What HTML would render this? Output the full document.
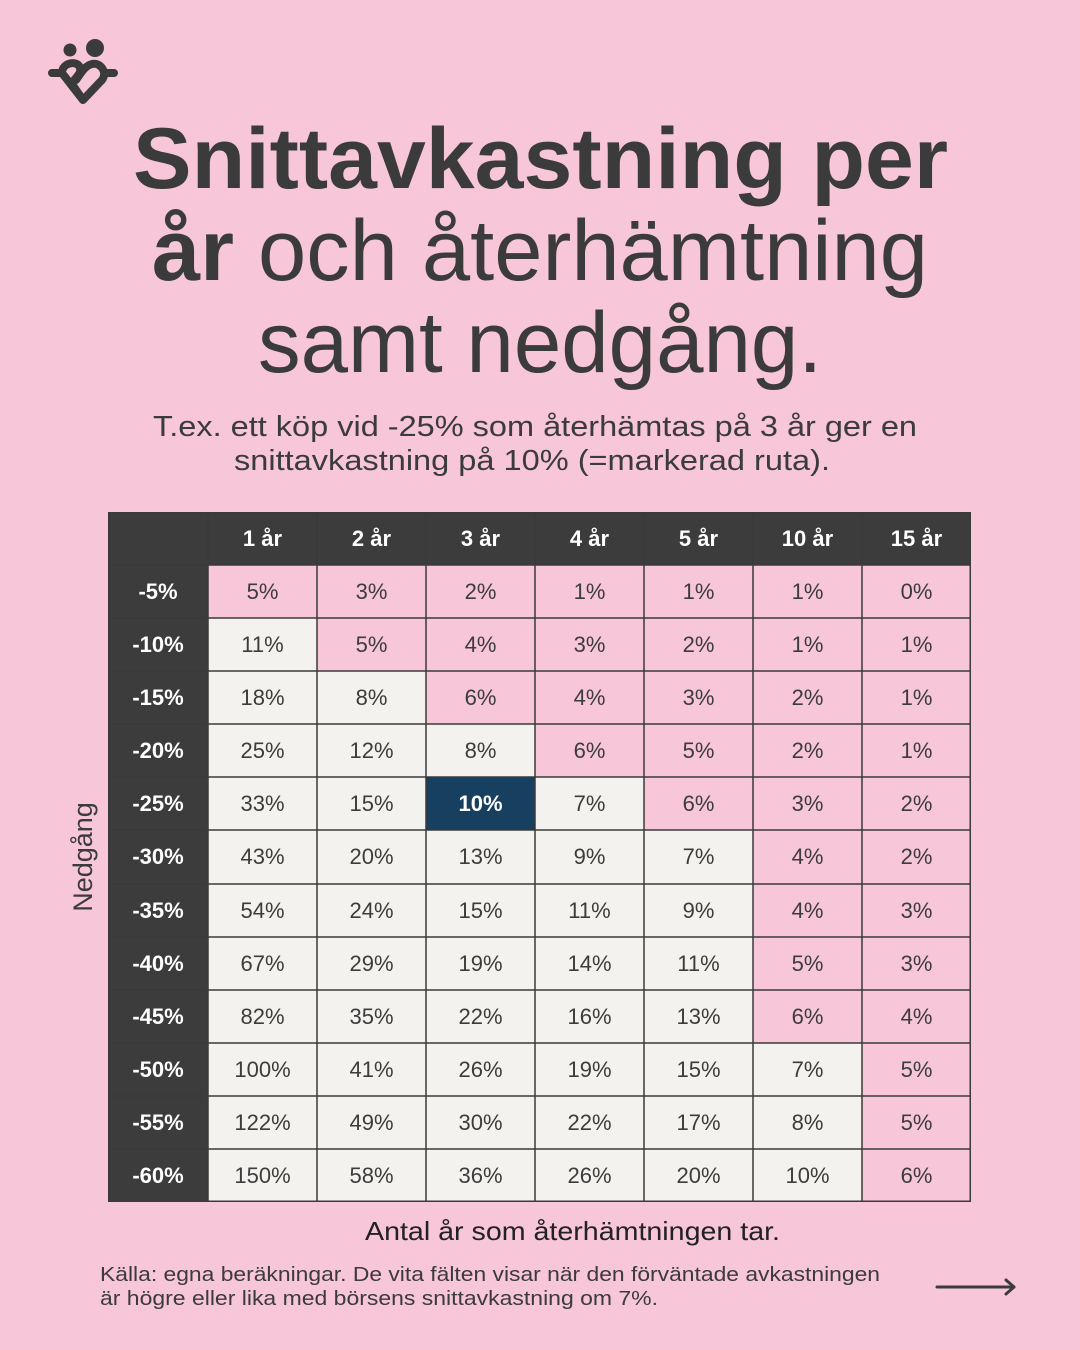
<!DOCTYPE html>
<html><head><meta charset="utf-8"><style>
html,body{margin:0;padding:0;background:#f7c6d8;}
svg{display:block}
</style></head><body>
<svg width="1080" height="1350" viewBox="0 0 1080 1350" xmlns="http://www.w3.org/2000/svg" font-family="Liberation Sans, sans-serif">
<rect width="1080" height="1350" fill="#f7c6d8"/>
<!-- logo -->
<g fill="#3b3b3b" stroke="#3b3b3b">
<circle cx="70" cy="50" r="6.5" stroke="none"/>
<circle cx="95" cy="48" r="9" stroke="none"/>
<path d="M52 73 H62 M104 73 H114 M62 73 C62 62 78 60 80 68 C82 74 74 78 72 84 L83 100 L102 80 C108 72 100 62 92 64 C84 66 80 75 76 80 M62 73 L83 100" fill="none" stroke-width="8" stroke-linecap="round" stroke-linejoin="round"/>
</g>
<!-- title -->
<g fill="#3b3b3b">
<text x="133" y="188" font-size="86" font-weight="bold" textLength="815" lengthAdjust="spacingAndGlyphs">Snittavkastning per</text>
<text x="152" y="280" font-size="86" textLength="776" lengthAdjust="spacingAndGlyphs"><tspan font-weight="bold">år</tspan> och återhämtning</text>
<text x="258" y="372" font-size="86" textLength="564" lengthAdjust="spacingAndGlyphs">samt nedgång.</text>
<text x="153" y="436" font-size="29" textLength="764" lengthAdjust="spacingAndGlyphs">T.ex. ett köp vid -25% som återhämtas på 3 år ger en</text>
<text x="234" y="470" font-size="29" textLength="596" lengthAdjust="spacingAndGlyphs">snittavkastning på 10% (=markerad ruta).</text>
</g>
<!-- table backgrounds -->
<rect x="108" y="512" width="863" height="53" fill="#3c3c3c"/>
<rect x="108" y="565" width="100" height="637" fill="#3c3c3c"/>
<rect x="208" y="565" width="763" height="637" fill="#f3f2ef"/>
<g fill="#f7c6d8">
<rect x="208" y="565" width="763" height="53"/>
<rect x="317" y="618" width="654" height="53"/>
<rect x="426" y="671" width="545" height="53"/>
<rect x="535" y="724" width="436" height="53"/>
<rect x="644" y="777" width="327" height="53"/>
<rect x="753" y="830" width="218" height="213"/>
<rect x="862" y="1043" width="109" height="159"/>
</g>
<rect x="426" y="777" width="109" height="53" fill="#173f5f"/>
<!-- grid -->
<g stroke="#3a3a3a" stroke-width="1.5">
<path d="M108 565H971M108 618H971M108 671H971M108 724H971M108 777H971M108 830H971M108 884H971M108 937H971M108 990H971M108 1043H971M108 1096H971M108 1149H971"/>
<path d="M208 512V1202M317 512V1202M426 512V1202M535 512V1202M644 512V1202M753 512V1202M862 512V1202"/>
<rect x="108.75" y="512.75" width="861.5" height="688.5" fill="none"/>
</g>
<!-- header -->
<g fill="#ffffff" font-size="22" font-weight="bold" text-anchor="middle">
<text x="262.5" y="546">1 år</text><text x="371.5" y="546">2 år</text><text x="480.5" y="546">3 år</text><text x="589.5" y="546">4 år</text><text x="698.5" y="546">5 år</text><text x="807.5" y="546">10 år</text><text x="916.5" y="546">15 år</text>
<text x="158" y="599">-5%</text><text x="158" y="652">-10%</text><text x="158" y="705">-15%</text><text x="158" y="758">-20%</text><text x="158" y="811">-25%</text><text x="158" y="864">-30%</text><text x="158" y="918">-35%</text><text x="158" y="971">-40%</text><text x="158" y="1024">-45%</text><text x="158" y="1077">-50%</text><text x="158" y="1130">-55%</text><text x="158" y="1183">-60%</text>
</g>
<g fill="#3c3c3c" font-size="22" text-anchor="middle">
<text y="599"><tspan x="262.5">5%</tspan><tspan x="371.5">3%</tspan><tspan x="480.5">2%</tspan><tspan x="589.5">1%</tspan><tspan x="698.5">1%</tspan><tspan x="807.5">1%</tspan><tspan x="916.5">0%</tspan></text>
<text y="652"><tspan x="262.5">11%</tspan><tspan x="371.5">5%</tspan><tspan x="480.5">4%</tspan><tspan x="589.5">3%</tspan><tspan x="698.5">2%</tspan><tspan x="807.5">1%</tspan><tspan x="916.5">1%</tspan></text>
<text y="705"><tspan x="262.5">18%</tspan><tspan x="371.5">8%</tspan><tspan x="480.5">6%</tspan><tspan x="589.5">4%</tspan><tspan x="698.5">3%</tspan><tspan x="807.5">2%</tspan><tspan x="916.5">1%</tspan></text>
<text y="758"><tspan x="262.5">25%</tspan><tspan x="371.5">12%</tspan><tspan x="480.5">8%</tspan><tspan x="589.5">6%</tspan><tspan x="698.5">5%</tspan><tspan x="807.5">2%</tspan><tspan x="916.5">1%</tspan></text>
<text y="811"><tspan x="262.5">33%</tspan><tspan x="371.5">15%</tspan><tspan x="589.5">7%</tspan><tspan x="698.5">6%</tspan><tspan x="807.5">3%</tspan><tspan x="916.5">2%</tspan></text>
<text y="864"><tspan x="262.5">43%</tspan><tspan x="371.5">20%</tspan><tspan x="480.5">13%</tspan><tspan x="589.5">9%</tspan><tspan x="698.5">7%</tspan><tspan x="807.5">4%</tspan><tspan x="916.5">2%</tspan></text>
<text y="918"><tspan x="262.5">54%</tspan><tspan x="371.5">24%</tspan><tspan x="480.5">15%</tspan><tspan x="589.5">11%</tspan><tspan x="698.5">9%</tspan><tspan x="807.5">4%</tspan><tspan x="916.5">3%</tspan></text>
<text y="971"><tspan x="262.5">67%</tspan><tspan x="371.5">29%</tspan><tspan x="480.5">19%</tspan><tspan x="589.5">14%</tspan><tspan x="698.5">11%</tspan><tspan x="807.5">5%</tspan><tspan x="916.5">3%</tspan></text>
<text y="1024"><tspan x="262.5">82%</tspan><tspan x="371.5">35%</tspan><tspan x="480.5">22%</tspan><tspan x="589.5">16%</tspan><tspan x="698.5">13%</tspan><tspan x="807.5">6%</tspan><tspan x="916.5">4%</tspan></text>
<text y="1077"><tspan x="262.5">100%</tspan><tspan x="371.5">41%</tspan><tspan x="480.5">26%</tspan><tspan x="589.5">19%</tspan><tspan x="698.5">15%</tspan><tspan x="807.5">7%</tspan><tspan x="916.5">5%</tspan></text>
<text y="1130"><tspan x="262.5">122%</tspan><tspan x="371.5">49%</tspan><tspan x="480.5">30%</tspan><tspan x="589.5">22%</tspan><tspan x="698.5">17%</tspan><tspan x="807.5">8%</tspan><tspan x="916.5">5%</tspan></text>
<text y="1183"><tspan x="262.5">150%</tspan><tspan x="371.5">58%</tspan><tspan x="480.5">36%</tspan><tspan x="589.5">26%</tspan><tspan x="698.5">20%</tspan><tspan x="807.5">10%</tspan><tspan x="916.5">6%</tspan></text>
</g>
<text x="480.5" y="811" fill="#ffffff" font-size="22" font-weight="bold" text-anchor="middle">10%</text>
<!-- axis labels -->
<text transform="translate(92,857) rotate(-90)" fill="#3b3b3b" font-size="27" text-anchor="middle">Nedgång</text>
<text x="365" y="1240" fill="#222" font-size="26" textLength="415" lengthAdjust="spacingAndGlyphs">Antal år som återhämtningen tar.</text>
<text x="100" y="1281" fill="#3b3b3b" font-size="20" textLength="780" lengthAdjust="spacingAndGlyphs">Källa: egna beräkningar. De vita fälten visar när den förväntade avkastningen</text>
<text x="100" y="1305" fill="#3b3b3b" font-size="20" textLength="558" lengthAdjust="spacingAndGlyphs">är högre eller lika med börsens snittavkastning om 7%.</text>
<g stroke="#3b3b3b" stroke-width="3" fill="none" stroke-linecap="round" stroke-linejoin="round">
<path d="M937 1287H1014M1006 1280L1014 1287L1006 1294"/>
</g>
</svg>
</body></html>
